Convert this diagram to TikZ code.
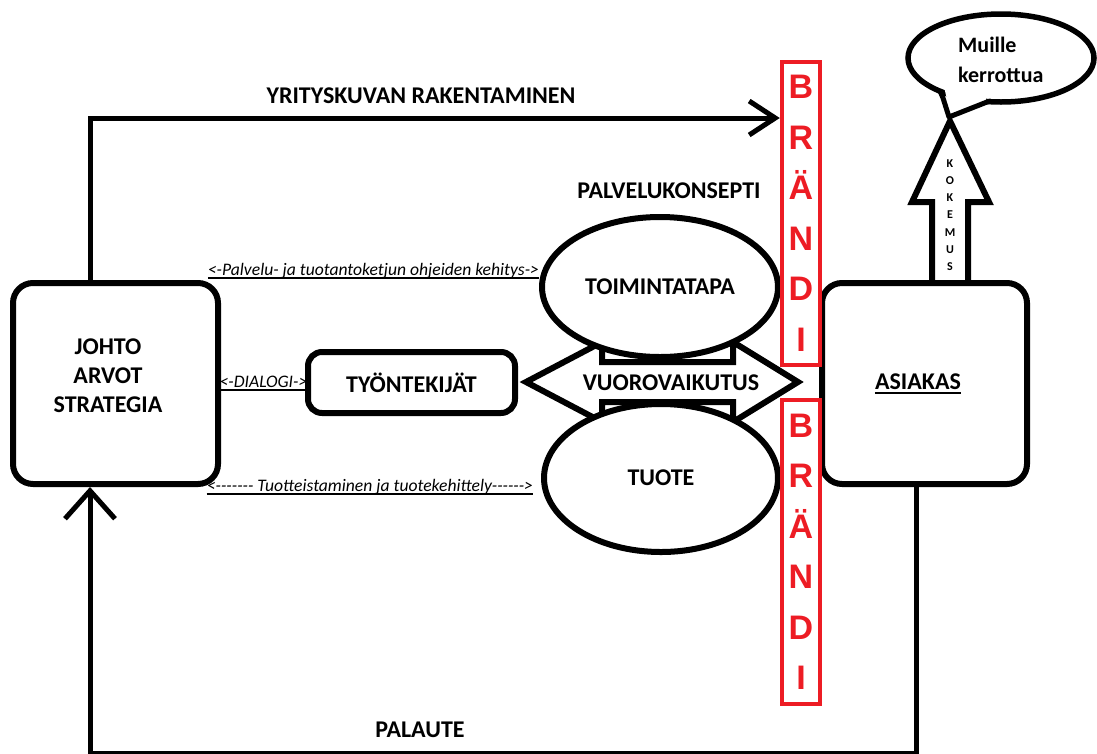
\documentclass[tikz,border=0pt]{standalone}
\usepackage{fontspec}
\setmainfont{Carlito}
\newfontfamily\notefont{Carlito}[Ligatures=TeXOff]
\newfontfamily\brandfont{Liberation Sans}
\usetikzlibrary{shapes.geometric,arrows.meta}
\definecolor{brandred}{HTML}{ED1C24}

\begin{document}
\begin{tikzpicture}[x=1pt,y=-1pt,
  box/.style={draw, line width=6pt, rounded corners=20pt, fill=white,
    minimum width=205pt, minimum height=201pt, inner sep=0pt},
  pill/.style={draw, line width=6pt, rounded corners=14pt, fill=white,
    minimum width=207pt, minimum height=61pt, inner sep=0pt},
  oval/.style={draw, ellipse, line width=6pt, fill=white, inner sep=0pt},
  big/.style={font=\bfseries\fontsize{24}{29}\selectfont, inner sep=0pt},
  brandbox/.style={draw=brandred, line width=4.5pt, fill=white,
    minimum width=38pt, inner sep=0pt, align=center, text=brandred,
    font=\brandfont\bfseries\fontsize{34}{50.5}\selectfont},
  note/.style={font=\notefont\itshape\fontsize{17.6}{20}\selectfont,
    inner sep=0pt, anchor=base},
  uline/.style={line width=1.5pt},
  conn/.style={line width=5pt},
  barb/.style={-{Straight Barb[length=26pt,width=34pt]}},
  barbbig/.style={-{Straight Barb[length=28pt,width=50pt]}},
  blockarrow/.style={line width=6pt, fill=white, line join=miter},
]
\useasboundingbox (0,0) rectangle (1097,753);

% experience arrow rising from the customer box
\draw[blockarrow] (932,286) -- (932,202) -- (912,202) -- (950,121)
  -- (989,202) -- (968,202) -- (968,286);
\node[font=\bfseries\fontsize{12}{17.2}\selectfont, align=center, inner sep=0pt]
  (kokemus) at (950,215) {K\\O\\K\\E\\M\\U\\S};

% speech bubble
\node[draw, ellipse, line width=5.5pt, fill=white, minimum width=186pt,
  minimum height=88pt, inner sep=0pt] (bubble) at (1001,58) {};
\fill[white] (944,86) -- (945,91) -- (950,112) -- (986,104) -- (986,96) -- cycle;
\draw[line width=5pt, line join=round] (940,91) -- (943,98) -- (949,117)
  -- (987,102) -- (991,101);
\node[font=\bfseries\fontsize{22}{30}\selectfont, align=left, anchor=west,
  inner sep=0pt] (muille) at (958,60) {Muille\\kerrottua};

% main boxes
\node[box] (johto) at (115.5,383.5) {};
\node[big, align=center] (johtotxt) at (108,376) {JOHTO\\ARVOT\\STRATEGIA};
\node[box] (asiakas) at (924.5,383.5) {};
\node[big] (asiakastxt) at (918,382) {ASIAKAS};
\draw[line width=2pt] ([yshift=-3pt]asiakastxt.base west)
  -- ([yshift=-3pt]asiakastxt.base east);
\node[pill, big] (tyon) at (411.5,382.5) {TYÖNTEKIJÄT};

% interaction double arrow, partly hidden behind the two ovals
\draw[blockarrow] (526,382) -- (602,342) -- (602,362) -- (733,362)
  -- (733,342) -- (798,382) -- (733,422) -- (733,402) -- (602,402)
  -- (602,422) -- cycle;
\node[oval, big, minimum width=236pt, minimum height=140pt] (toim) at (660,287) {TOIMINTATAPA};
\node[oval, big, minimum width=234pt, minimum height=148pt] (tuote) at (661,478) {TUOTE};
\node[big] (vuoro) at (671,383) {VUOROVAIKUTUS};
\node[big] (konsepti) at (669,191) {PALVELUKONSEPTI};

% brand columns
\node[brandbox, minimum height=303pt] (brandA) at (801,213.5) {B\\R\\Ä\\N\\D\\I};
\node[brandbox, minimum height=304pt] (brandB) at (801,552) {B\\R\\Ä\\N\\D\\I};

% corporate image: from management to the brand
\draw[conn, barb] ([xshift=-25.5pt]johto.north) |- ([yshift=95.5pt]brandA.west);
\node[big] (yrityskuva) at (421,96) {YRITYSKUVAN RAKENTAMINEN};

% feedback: from the customer back to management
\draw[conn, barbbig] ([xshift=-8.5pt]asiakas.south) -- ++(0,266.5)
  -| ([xshift=-25.5pt]johto.south);
\node[big] (palaute) at (420,730) {PALAUTE};

% underlined italic link labels
\node[note] (ohjeet) at (373.5,275) {<-Palvelu- ja tuotantoketjun ohjeiden kehitys->};
\draw[uline] ([yshift=-3pt]ohjeet.base west) -- ([yshift=-3pt]ohjeet.base east);
\node[note] (dialogi) at (263.5,387) {<-DIALOGI->};
\coordinate (dl) at ([yshift=-3pt]dialogi.base);
\draw[uline] (dl -| johto.east) -- (dl -| tyon.west);
\node[note] (tuotteistus) at (370,491) {<------- Tuotteistaminen ja tuotekehittely------>};
\draw[uline] ([yshift=-3pt]tuotteistus.base west) -- ([yshift=-3pt]tuotteistus.base east);
\end{tikzpicture}
\end{document}
